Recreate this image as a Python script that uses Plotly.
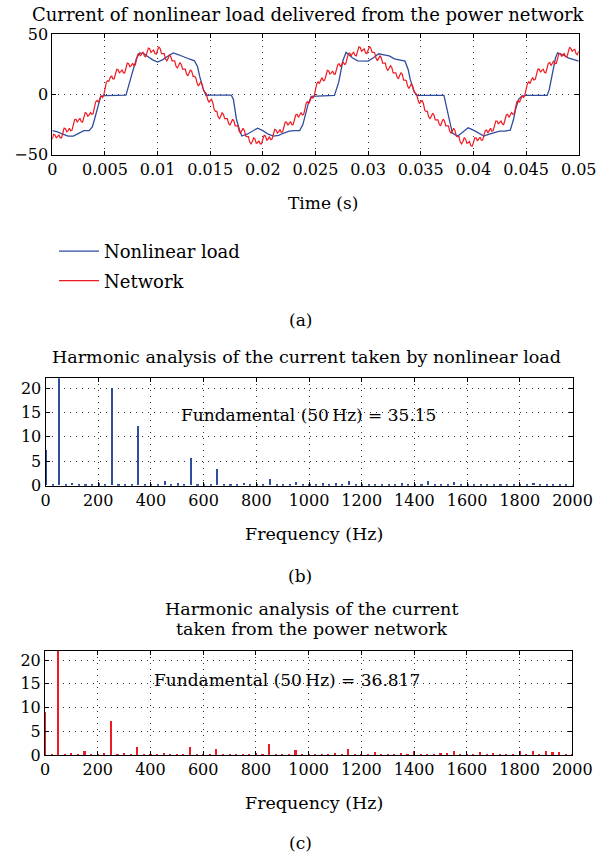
import plotly.graph_objects as go
import numpy as np

W, H = 599, 854
def px(x): return x / W
def py(y): return 1 - y / H

# ---------------- data ----------------
# Panel (a): nonlinear load current (blue), irregular sample times in ms
load_t_ms = [0, 0.5, 1, 1.5, 2, 2.5, 3, 3.5, 3.8, 4.0, 4.3, 4.6, 5, 6, 7, 7.5, 8, 8.3, 8.7, 9,
             9.5, 10, 10.5, 11, 11.5, 12, 12.5, 13, 13.5, 13.8, 14, 14.3, 14.6, 15, 16, 17, 17.2,
             17.5, 17.8, 18, 18.5, 19, 19.5, 20, 20.5, 21, 21.5, 22, 22.5, 23, 23.5, 23.8, 24.0,
             24.3, 24.6, 25, 26, 26.8, 27.2, 27.6, 27.9, 28.5, 29, 29.5, 30, 30.5, 31, 31.5, 32,
             32.5, 33, 33.5, 33.8, 34, 34.3, 34.6, 35, 36, 37.2, 37.5, 37.8, 38, 38.5, 39, 39.5,
             40, 40.5, 41, 41.5, 42, 42.5, 43, 43.5, 43.8, 44, 44.3, 44.6, 45, 46, 47, 47.2, 47.5,
             47.8, 48, 48.5, 49, 49.5, 50]
load_i = [-30, -31, -33, -34.5, -34.5, -32, -30, -30, -27, -21, -10, -1.5, -1, -0.8, -0.5, 15, 30,
          34.5, 34, 32, 29, 27, 29, 32, 34.5, 33, 31, 29.5, 28, 23, 15, 5.5, -0.8, -0.5, -0.5,
          -0.5, -4, -21, -30, -34.5, -33, -30.5, -28, -30, -33, -34.5, -34, -32, -30.5, -30, -30,
          -25, -18, -8, -1.5, -1.4, -1, -0.8, 10, 28, 35, 30.5, 28, 27.7, 27.7, 30.5, 33.8, 33,
          32, 29.6, 28.5, 27.7, 20.8, 12.5, 4, -1, -0.8, -0.8, -0.8, -12.5, -26, -32, -34.6, -31,
          -27.7, -29.6, -32.4, -34.6, -33, -32, -30.5, -30.5, -29.6, -21, -12.5, -4, -1.4, -0.8,
          -0.8, -0.8, 4, 18, 30.5, 34.6, 33, 30.5, 29, 27.7]

# Panel (a): network current (red), sampled every 0.125 ms from 0 to 50 ms
network_i = [
    -37, -33, -33.5, -36, -35, -33.5, -36, -36, -32, -28, -28.5, -31, -30, -28, -30, -29.5,
    -25, -21, -20.5, -23, -21, -20, -22.5, -23, -19, -15, -15.5, -18, -17, -15, -16.5, -16,
    -11, -6, -5, -6.5, -4, -1, -2.5, -1, 4, 10, 11.5, 11, 14, 15.5, 13, 13,
    17, 21, 20.5, 18, 19, 20.5, 18, 18, 22, 26, 25.5, 23, 24, 26, 24, 24.5,
    29, 33.5, 34, 32, 34, 35, 32, 31.5, 35, 38.5, 38, 35, 36, 37, 34, 33.5,
    37, 39.5, 38, 34, 34, 34, 29.5, 28, 30, 33, 31.5, 28, 28, 28, 23.5, 22,
    24, 26.5, 25, 21, 21, 21, 17, 15.5, 18, 20.5, 19, 15, 15, 14, 9.5, 7,
    9, 10.5, 8, 3, 2, 1, -4, -6.5, -5, -4, -7, -12.5, -14, -14, -18.5, -20,
    -18, -15, -16.5, -20, -20, -20, -24, -25.5, -23, -20.5, -22, -26, -26, -26, -30.5, -32,
    -30, -28, -30, -34.5, -35, -35, -39.5, -41, -39, -36, -37, -40.5, -40, -38.5, -41, -41,
    -37, -34, -34.5, -38, -37, -35, -37.5, -37, -33, -29, -29.5, -32, -31, -29, -31.5, -31,
    -27, -23, -23, -25.5, -24, -22.5, -25, -25, -21, -17, -16.5, -19, -17, -15, -17, -16.5,
    -12, -7, -6, -7.5, -5, -2, -3, -1.5, 4, 9, 10.5, 9, 12, 14, 11.5, 12,
    16, 20, 19.5, 17, 18, 19.5, 17, 17, 21, 25, 25.5, 23, 25, 27, 25, 25.5,
    30, 34, 34.5, 32, 34, 35, 32.5, 32, 36, 39.5, 39, 36, 37, 38, 34.5, 34,
    37, 40, 38.5, 35, 35, 34.5, 30, 28, 30, 32, 30.5, 26, 26, 26, 21.5, 20,
    22, 24, 22.5, 18, 18, 18, 14.5, 13, 16, 18, 16.5, 12, 12, 11.5, 7, 5,
    7, 9, 6.5, 2, 1, 0, -5, -7.5, -6, -5, -7.5, -13, -14, -14, -18.5, -20,
    -18, -15.5, -17, -21, -21, -21, -24.5, -26, -23, -20.5, -22, -26, -26, -26, -30.5, -32,
    -30, -28, -30, -34.5, -35, -35, -39.5, -41, -39, -36, -37, -40.5, -40, -39, -42.5, -43,
    -40, -36, -36, -38.5, -37, -35.5, -38, -38, -34, -30, -29.5, -32, -30, -28, -30.5, -30,
    -26, -22, -22, -24.5, -23, -22, -24.5, -25, -21, -17, -16.5, -19, -17, -15, -16.5, -16,
    -11, -6, -5, -6.5, -4, -1, -2.5, -1, 4, 9, 10.5, 9, 12, 14, 12, 12.5,
    17, 21, 21, 18.5, 20, 21, 18.5, 18, 22, 26, 26.5, 24, 26, 28, 25.5, 26,
    30, 34, 34, 31.5, 33, 34, 31.5, 31, 35, 39, 38.5, 36, 37, 37.5, 34, 33, 36]

time_ticks = [0, 0.005, 0.01, 0.015, 0.02, 0.025, 0.03, 0.035, 0.04, 0.045, 0.05]
time_labels = ["0", "0.005", "0.01", "0.015", "0.02", "0.025", "0.03", "0.035", "0.04", "0.045", "0.05"]

# Panels (b), (c): harmonic spectra, 25 Hz bins 0..2000 Hz
freq_hz = [25 * k for k in range(81)]
load_spectrum = [
    7.2, 0.1, 35.15, 0.2, 0.55, 0.2, 0.35, 0.2, 0.4, 0.2, 20.0, 0.2, 0.35, 0.2, 12.1, 0.2,
    0.15, 0.1, 1.0, 0.2, 0.4, 0.2, 5.7, 0.2, 0.15, 0.1, 3.4, 0.15, 0.15, 0.15, 0.55, 0.2,
    0.2, 0.2, 1.35, 0.2, 0.2, 0.2, 0.6, 0.2, 0.15, 0.2, 0.4, 0.2, 0.4, 0.2, 0.95, 0.2,
    0.35, 0.2, 0.2, 0.2, 0.2, 0.2, 0.4, 0.2, 0.35, 0.2, 0.8, 0.2, 0.2, 0.2, 0.7, 0.2,
    0.15, 0.2, 0.2, 0.2, 0.35, 0.2, 0.35, 0.2, 0.15, 0.2, 0.45, 0.2, 0.2, 0.2, 0.2, 0.2, 0.15]
network_spectrum = [
    9.2, 0.35, 36.817, 0.35, 0.55, 0.2, 0.85, 0.2, 0.15, 0.55, 7.2, 0.35, 0.4, 0.35, 1.65, 0.2,
    0.15, 0.35, 0.4, 0.15, 0.15, 0.35, 1.65, 0.35, 0.15, 0.15, 1.3, 0.35, 0.35, 0.35, 0.35, 0.35,
    0.55, 0.35, 2.45, 0.35, 0.3, 0.2, 1.05, 0.2, 0.15, 0.2, 0.35, 0.2, 0.5, 0.2, 1.4, 0.35,
    0.35, 0.2, 0.75, 0.2, 0.2, 0.3, 0.55, 0.2, 0.85, 0.2, 0.35, 0.2, 0.4, 0.4, 0.85, 0.2,
    0.15, 0.2, 0.7, 0.3, 0.4, 0.2, 0.2, 0.35, 0.9, 0.35, 1.0, 0.35, 0.85, 0.6, 0.75, 0.35, 0.35]

freq_ticks = list(range(0, 2001, 200))
amp_ticks = [0, 5, 10, 15, 20]

# ---------------- figure ----------------
FONT = "DejaVu Serif"
BLUE = "#2f4da0"
RED = "#f01a22"
fig = go.Figure()

t_net = np.linspace(0, 0.05, len(network_i))
t_load = np.array(load_t_ms) / 1000.0

fig.add_trace(go.Scatter(x=t_load, y=load_i, mode="lines", name="Nonlinear load",
                         legendgroup="load",
                         line=dict(color=BLUE, width=1.3), xaxis="x", yaxis="y"))
fig.add_trace(go.Scatter(x=t_net, y=network_i, mode="lines", name="Network",
                         legendgroup="net",
                         line=dict(color=RED, width=1.2), xaxis="x", yaxis="y"))

fig.add_trace(go.Bar(x=freq_hz, y=load_spectrum, width=8, marker=dict(color=BLUE, line=dict(width=0)),
                     showlegend=False, xaxis="x2", yaxis="y2"))
fig.add_trace(go.Bar(x=freq_hz, y=network_spectrum, width=8, marker=dict(color=RED, line=dict(width=0)),
                     showlegend=False, xaxis="x3", yaxis="y3"))

axis_common = dict(showline=True, linecolor="black", linewidth=1, mirror="ticks",
                   ticks="inside", ticklen=4, tickcolor="black", showgrid=True,
                   gridcolor="#333333", gridwidth=1, griddash="1px,5px", zeroline=False,
                   automargin=False,
                   tickfont=dict(family=FONT, size=16, color="black"))

fig.update_layout(
    width=W, height=H, autosize=False,
    margin=dict(l=0, r=0, t=0, b=0, autoexpand=False),
    paper_bgcolor="white", plot_bgcolor="white",
    font=dict(family=FONT, size=18, color="black"),
    bargap=0,
    xaxis=dict(domain=[px(52.3), px(578.7)], range=[0, 0.05], tickvals=time_ticks,
               ticktext=time_labels, anchor="y", **axis_common),
    yaxis=dict(domain=[py(154.7), py(34.3)], range=[-50, 50], tickvals=[-50, 0, 50],
               anchor="x", **axis_common),
    xaxis2=dict(domain=[px(45.5), px(572.5)], range=[0, 2000], tickvals=freq_ticks,
                anchor="y2", **axis_common),
    yaxis2=dict(domain=[py(485.7), py(378.3)], range=[0, 22], tickvals=amp_ticks,
                anchor="x2", **axis_common),
    xaxis3=dict(domain=[px(45), px(572.3)], range=[0, 2000], tickvals=freq_ticks,
                anchor="y3", **axis_common),
    yaxis3=dict(domain=[py(755), py(650.7)], range=[0, 22], tickvals=amp_ticks,
                anchor="x3", **axis_common),
    legend=dict(x=px(54), y=py(233), xanchor="left", yanchor="top",
                font=dict(family=FONT, size=18), bgcolor="rgba(0,0,0,0)",
                tracegroupgap=3, itemwidth=40),
)

def label(text, x, y, size=18, xanchor="center"):
    fig.add_annotation(text=text, x=px(x), y=py(y), xref="paper", yref="paper",
                       xanchor=xanchor, yanchor="middle", showarrow=False,
                       font=dict(family=FONT, size=size, color="black"))

label("Current of nonlinear load delivered from the power network", 308, 14)
label("Time (s)", 323, 203, size=17)
label("(a)", 300, 320, size=17)
label("Harmonic analysis of the current taken by nonlinear load", 306, 357, size=17.5)
label("Fundamental (50\u2009Hz) = 35.15", 308, 415, size=17)
label("Frequency (Hz)", 314, 534, size=17.5)
label("(b)", 300, 576, size=17)
label("Harmonic analysis of the current", 311, 609, size=17.5)
label("taken from the power network", 312, 629, size=17.5)
label("Fundamental (50\u2009Hz) = 36.817", 287, 680, size=17)
label("Frequency (Hz)", 314, 803, size=17.5)
label("(c)", 300, 843, size=17)

# remove the default page margin so the figure fills the browser window exactly
fig.write_html("out.html", config={"displayModeBar": False},
               post_script="document.body.style.margin='0';")
